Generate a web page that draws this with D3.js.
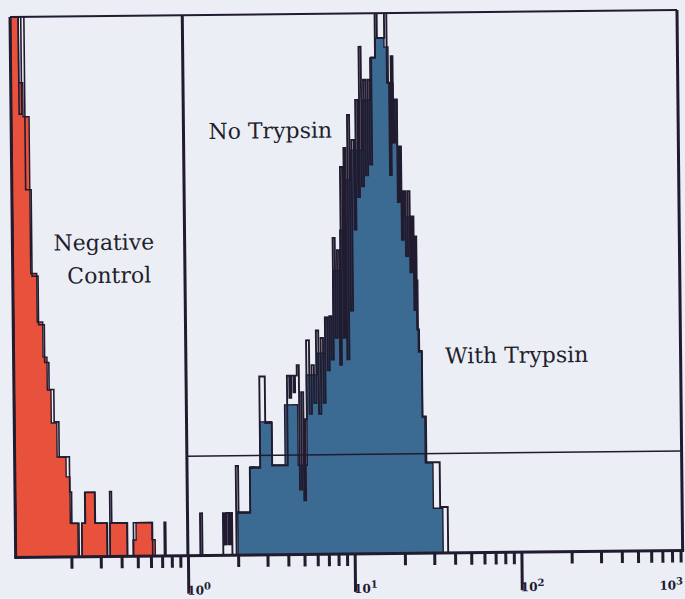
<!DOCTYPE html>
<html><head><meta charset="utf-8">
<script src="https://cdn.jsdelivr.net/npm/d3@7"></script>
<style>html,body{margin:0;padding:0;background:#eceef6;} svg{display:block}</style>
</head><body>
<svg id="c" width="685" height="599"></svg>
<script>
// ---------- DATA (channels: 64 per decade, channel 0 = 10^-1) ----------
const channelsPerDecade = 64;
// Negative control (red filled histogram)
const redStarts = [-2, 1, 2.5, 4.8, 7.1, 9.2, 10.7, 12.1, 14.2, 17.6, 19, 21.9, 23.4, 24.6, 28.4, 33, 34.2, 40.7, 43, 44.2, 50.3];
const redCounts = [110, 87.8, 81.5, 52.5, 43.5, 37, 30.9, 24.8, 18.5, 14.8, 6.2, 0, 6.2, 11.9, 6.2, 0, 6.2, 0, 3, 6.2, 3];
const redEnd = 51.5;
// Negative control overlay (outline)
const redOverlayStarts = [-2, 1, 2, 3.2, 5.3, 7.6, 9.8, 11.4, 13.2, 15, 18.9, 19.6, 22.3, 23.4, 24.8, 28.6, 33.2, 34.2, 34.9, 40.9, 43.2, 50.5, 55];
const redOverlayCounts = [110, 82, 110, 68, 52, 43, 36, 31, 25, 18.5, 12, 6.2, 0, 6.2, 11.9, 6.2, 0, 12, 6.2, 0, 6.2, 0, 6.2];
const redOverlayEnd = 55.6;
// With Trypsin (blue filled histogram)
const blueStarts = [83.3, 88.1, 92.1, 96.7, 101.7, 106.7, 110.2, 114.3, 117.5, 120.7, 123.6, 125.7, 127.8, 132.5, 135.8, 137.9, 141.3, 142.8, 144.6, 146, 147, 148.7, 150.6, 152, 153.3, 154.6, 155.5, 158.4];
const blueCounts = [8, 16.3, 24.6, 16.6, 27.7, 16.5, 33.2, 37.2, 43.8, 52.5, 59.9, 69.2, 74.7, 83.9, 91.7, 95.4, 93.7, 87, 83.9, 75.2, 66.8, 62.2, 58.5, 50.5, 37.2, 25.2, 16.7, 8.3];
const blueEnd = 162;
// No Trypsin (outline histogram, picket-fence channels)
const noTrypStarts = [68.8, 69.6, 77.6, 78.3, 79.0, 79.8, 80.4, 81.1, 82.7, 83.6, 88.1, 92.1, 94.2, 96.7,
  102.7, 103.6, 104.3, 105.2, 105.8,
  106.5, 107.3, 108.1, 108.9, 109.6, 110.2, 111.3, 112.2, 113.1, 114.0, 114.9, 115.8, 116.7,
  117.5, 118.4, 119.2, 120.0, 120.8, 121.6, 122.4, 123.2, 123.9, 124.7, 125.3, 126.0, 126.8,
  127.6, 128.4, 129.3, 130.0, 130.8, 131.5, 132.3, 133.1, 133.9, 134.7, 135.5, 136.3, 137.8,
  138.6, 141.4, 142.3, 143.1, 143.8, 144.5, 145.2, 146.0, 146.7, 147.4, 148.1, 148.9, 149.7,
  150.5, 151.2, 151.9, 152.4, 152.9, 153.6, 154.6, 155.9, 161.0];
const noTrypCounts = [7.8, 0, 7.8, 2, 7.8, 2, 7.8, 0, 16.5, 7.8, 16.1, 33, 24.4, 16.5,
  33.1, 29, 33.1, 30, 33.1,
  35, 12, 30, 10, 25, 39.6, 26, 35, 28, 41.4, 26, 40, 28,
  43.8, 34, 44, 36, 58.5, 40, 56.2, 35, 71.6, 40, 75.1, 36, 81.2,
  45, 76.6, 60, 84, 66, 93.8, 68, 87.7, 70, 87.7, 72, 91.8, 110,
  95.4, 110, 87.1, 70, 92, 76, 84, 65, 75.3, 58, 67, 55, 67,
  52, 62.3, 45, 58.6, 41.4, 37.4, 25.3, 16.8, 8.5];
const noTrypEnd = 163.9;
// Gate / markers
const markerIntensity = 1;
const gateCount = 18.4;
// Axis
const axisDomain = [0.1, 1000];
const majorTicks = [1, 10, 100, 1000];
const majorExponents = ["0", "1", "2", "3"];
const countDomain = [0, 100];
const annotations = ["Negative", "Control", "No Trypsin", "With Trypsin"];

// ---------- LAYOUT ----------
const dark = "#211b2f";
const plot = {left: 13, right: 680, top: 13.5, bottom: 554};
const svg = d3.select("#c");
const g = svg.append("g").attr("transform", "rotate(-0.6 342 300)");

const x = d3.scaleLog().domain(axisDomain).range([18.5, 685.5]);
const y = d3.scaleLinear().domain(countDomain).range([plot.bottom, plot.top]);
const chToVal = ch => Math.pow(10, ch / channelsPerDecade - 1);

svg.append("defs").append("clipPath").attr("id", "pc")
  .append("rect").attr("x", plot.left).attr("y", plot.top)
  .attr("width", plot.right - plot.left).attr("height", plot.bottom - plot.top);

const line = d3.line().curve(d3.curveStepAfter)
  .x(d => x(chToVal(d.ch))).y(d => y(d.c));
function pts(starts, counts, end) {
  const p = [{ch: starts[0], c: 0}];
  starts.forEach((s, i) => p.push({ch: s, c: counts[i]}));
  p.push({ch: end, c: counts[counts.length - 1]});
  p.push({ch: end, c: 0});
  return p;
}
const hg = g.append("g").attr("clip-path", "url(#pc)");
hg.append("path").attr("d", line(pts(redStarts, redCounts, redEnd)))
  .attr("fill", "#e8523c").attr("stroke", dark).attr("stroke-width", 1.4);
hg.append("path").attr("d", line(pts(redOverlayStarts, redOverlayCounts, redOverlayEnd)))
  .attr("fill", "none").attr("stroke", dark).attr("stroke-width", 1.6);
hg.append("path").attr("d", line(pts(blueStarts, blueCounts, blueEnd)))
  .attr("fill", "#3b6b92").attr("stroke", dark).attr("stroke-width", 1.4);
hg.append("path").attr("d", line(pts(noTrypStarts, noTrypCounts, noTrypEnd)))
  .attr("fill", "none").attr("stroke", dark).attr("stroke-width", 1.9);

// gate line
g.append("line").attr("x1", x(markerIntensity)).attr("x2", plot.right)
  .attr("y1", y(gateCount)).attr("y2", y(gateCount))
  .attr("stroke", dark).attr("stroke-width", 1.5);
// divider marker
g.append("line").attr("x1", x(markerIntensity)).attr("x2", x(markerIntensity))
  .attr("y1", plot.top).attr("y2", plot.bottom)
  .attr("stroke", dark).attr("stroke-width", 3);
// frame
g.append("line").attr("x1", plot.left).attr("x2", plot.right).attr("y1", plot.top).attr("y2", plot.top).attr("stroke", dark).attr("stroke-width", 2);
g.append("line").attr("x1", plot.left).attr("x2", plot.left).attr("y1", plot.top).attr("y2", plot.bottom).attr("stroke", dark).attr("stroke-width", 3);
g.append("line").attr("x1", plot.right).attr("x2", plot.right).attr("y1", plot.top).attr("y2", plot.bottom).attr("stroke", dark).attr("stroke-width", 3);

// axis
const axis = d3.axisBottom(x).tickSizeOuter(0)
  .tickValues(x.ticks().filter(v => x(v) > plot.left + 20 && x(v) < plot.right - 1))
  .tickSize(12).tickFormat("");
const ax = g.append("g").attr("transform", `translate(0,${plot.bottom})`).call(axis);
ax.select(".domain").remove();
ax.selectAll(".tick line").attr("stroke", dark).attr("stroke-width", 3)
  .attr("y2", d => majorTicks.includes(d) ? 38 : 12);
g.append("line").attr("x1", plot.left - 1.5).attr("x2", plot.right + 1.5)
  .attr("y1", plot.bottom).attr("y2", plot.bottom).attr("stroke", dark).attr("stroke-width", 3);

// tick labels
majorTicks.forEach((v, i) => {
  const last = i === majorTicks.length - 1;
  const t = g.append("text")
    .attr("x", last ? 680 : x(v) - 1).attr("y", 593)
    .attr("text-anchor", last ? "end" : "start")
    .attr("font-family", "DejaVu Serif").attr("font-weight", "bold")
    .attr("font-size", 12).attr("fill", dark);
  t.append("tspan").text("10");
  t.append("tspan").attr("dy", -5).attr("font-size", 10).text(majorExponents[i]);
});

// annotations
const txt = (s, xx, yy) => g.append("text").attr("x", xx).attr("y", yy)
  .attr("text-anchor", "middle").attr("font-family", "DejaVu Serif")
  .attr("font-size", 22).attr("fill", "#231e2b").text(s);
txt(annotations[0], 104.5, 247.5);
txt(annotations[1], 109.5, 280.5);
txt(annotations[2], 272, 137.5);
txt(annotations[3], 516, 364.5);
</script>
</body></html>
